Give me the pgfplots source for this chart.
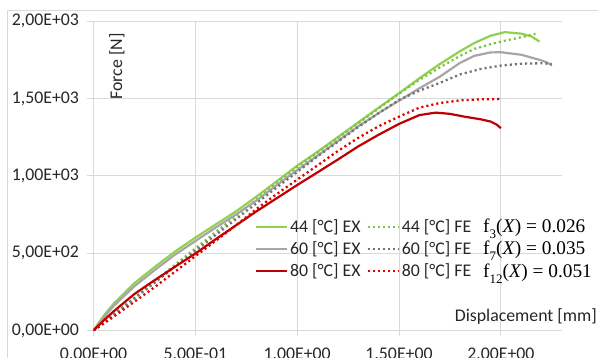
\documentclass[border=0pt]{standalone}
\usepackage{fontspec}
\setmainfont{Carlito}
\newfontfamily\timesf{Liberation Serif}
\usepackage{pgfplots}
\pgfplotsset{compat=1.18}
\definecolor{gEX}{HTML}{92D050}
\definecolor{gFE}{HTML}{7CC24A}
\definecolor{aEX}{HTML}{A6A6A6}
\definecolor{aFE}{HTML}{737373}
\definecolor{rEX}{HTML}{C00000}
\definecolor{rFE}{HTML}{E00000}
\definecolor{gridc}{HTML}{D9D9D9}
\definecolor{txt}{HTML}{262626}
\newcommand{\fs}{\fontsize{17.8}{21}\selectfont}
\newcommand{\ft}{\fontsize{19.3}{21}\selectfont}
\newcommand{\sub}[1]{\raisebox{-0.3em}{\fontsize{13}{14}\selectfont #1}}

\pgfplotstableread{
x y
0 0
0.05 95
0.1 175
0.2 305
0.3 410
0.4 510
0.5 600
0.6 685
0.7 770
0.8 865
0.9 965
1.0 1065
1.1 1155
1.2 1250
1.3 1345
1.4 1440
1.5 1533
1.6 1630
1.7 1722
1.8 1805
1.87 1858
1.95 1905
2.02 1928
2.1 1918
2.15 1900
2.19 1867
}\gex
\pgfplotstableread{
x y
0 0
0.1 105
0.2 212
0.3 318
0.4 424
0.5 530
0.6 636
0.7 740
0.8 845
0.9 950
1.0 1055
1.1 1150
1.2 1245
1.3 1340
1.4 1435
1.5 1530
1.6 1620
1.7 1700
1.8 1775
1.87 1820
1.95 1850
2.0 1867
2.1 1895
2.17 1917
}\gfe
\pgfplotstableread{
x y
0 0
0.05 85
0.1 160
0.2 285
0.3 390
0.4 490
0.5 578
0.6 665
0.7 750
0.8 840
0.9 940
1.0 1037
1.1 1130
1.2 1225
1.3 1320
1.4 1405
1.5 1485
1.6 1565
1.7 1640
1.8 1730
1.87 1775
1.95 1797
2.0 1798
2.1 1782
2.2 1745
2.23 1730
2.25 1712
}\aex
\pgfplotstableread{
x y
0 0
0.1 103
0.2 206
0.3 308
0.4 412
0.5 515
0.6 618
0.7 720
0.8 822
0.9 925
1.0 1025
1.1 1125
1.2 1220
1.3 1315
1.4 1405
1.5 1490
1.6 1550
1.7 1600
1.8 1655
1.9 1690
2.0 1712
2.1 1724
2.2 1727
2.25 1722
}\afe
\pgfplotstableread{
x y
0 0
0.05 65
0.1 125
0.2 235
0.3 325
0.4 412
0.5 497
0.6 590
0.7 680
0.8 770
0.9 855
1.0 940
1.1 1022
1.2 1105
1.3 1190
1.4 1265
1.5 1335
1.6 1392
1.68 1408
1.75 1400
1.82 1382
1.9 1365
1.95 1350
1.98 1330
2.0 1307
}\rex
\pgfplotstableread{
x y
0 0
0.1 90
0.2 185
0.3 280
0.4 380
0.5 480
0.6 580
0.7 680
0.8 785
0.9 882
1.0 975
1.1 1067
1.2 1160
1.3 1245
1.4 1320
1.5 1382
1.6 1440
1.7 1470
1.8 1487
1.9 1494
2.0 1496
}\rfe

\begin{document}
\begin{tikzpicture}
\useasboundingbox (-93.5pt,-27.5pt) rectangle (504.5pt,330.5pt);
\clip (-93.5pt,-27.5pt) rectangle (504.5pt,330.5pt);
\draw[gridc, line width=0.9pt] (-86.5pt,-60pt) rectangle (540pt,320.5pt);
\begin{axis}[
  at={(0pt,0pt)}, anchor=south west,
  scale only axis, width=468.5pt, height=309.5pt,
  xmin=0, xmax=2.3, ymin=0, ymax=2000,
  xtick={0,0.5,1,1.5,2},
  xticklabels={{0,00E+00},{5,00E-01},{1,00E+00},{1,50E+00},{2,00E+00}},
  ytick={0,500,1000,1500,2000},
  yticklabels={{0,00E+00},{5,00E+02},{1,00E+03},{1,50E+03},{2,00E+03}},
  grid=major, major grid style={color=gridc, line width=0.9pt},
  axis x line*=bottom, axis y line*=left,
  axis line style={-, color=gridc, line width=0.9pt},
  tick align=outside, major tick length=6pt,
  tick style={color=gridc, line width=0.9pt},
  ticklabel style={font=\fs, color=txt},
  yticklabel style={xshift=-5pt},
  xticklabel style={yshift=-8pt},
  legend columns=2,
  legend cell align=left,
  legend style={at={(axis description cs:0.344,0.364)}, anchor=north west,
    draw=none, fill=none, font=\fs, text=txt, inner sep=0pt, row sep=3.5pt,
    /tikz/every even column/.append style={column sep=4pt}},
  legend image code/.code={\draw[#1] (0pt,0pt) -- (31pt,0pt);},
]
\addplot[gEX, line width=2.2pt, line join=round] table {\gex};
\addlegendentry{44 [°C] EX}
\addplot[gFE, line width=2.3pt, dash pattern=on 2.1pt off 3pt] table {\gfe};
\addlegendentry{44 [°C] FE}
\addplot[aEX, line width=2.2pt, line join=round] table {\aex};
\addlegendentry{60 [°C] EX}
\addplot[aFE, line width=2.3pt, dash pattern=on 2.1pt off 3pt] table {\afe};
\addlegendentry{60 [°C] FE}
\addplot[rEX, line width=2.2pt, line join=round] table {\rex};
\addlegendentry{80 [°C] EX}
\addplot[rFE, line width=2.3pt, dash pattern=on 2.1pt off 3pt] table {\rfe};
\addlegendentry{80 [°C] FE}
\end{axis}
\node[rotate=90, font=\fs, text=txt] at (23.5pt,264pt) {Force [N]};
\node[anchor=east, font=\fs, text=txt, inner sep=0pt] at (503.5pt,13.5pt) {Displacement [mm]};
\node[anchor=base west, inner sep=0pt, font=\ft\timesf] at (389.5pt,97.5pt) {f\sub{3}(\textit{X}) = 0.026};
\node[anchor=base west, inner sep=0pt, font=\ft\timesf] at (389.5pt,75.5pt) {f\sub{7}(\textit{X}) = 0.035};
\node[anchor=base west, inner sep=0pt, font=\ft\timesf] at (389.5pt,53.2pt) {f\sub{12}(\textit{X}) = 0.051};
\end{tikzpicture}
\end{document}
